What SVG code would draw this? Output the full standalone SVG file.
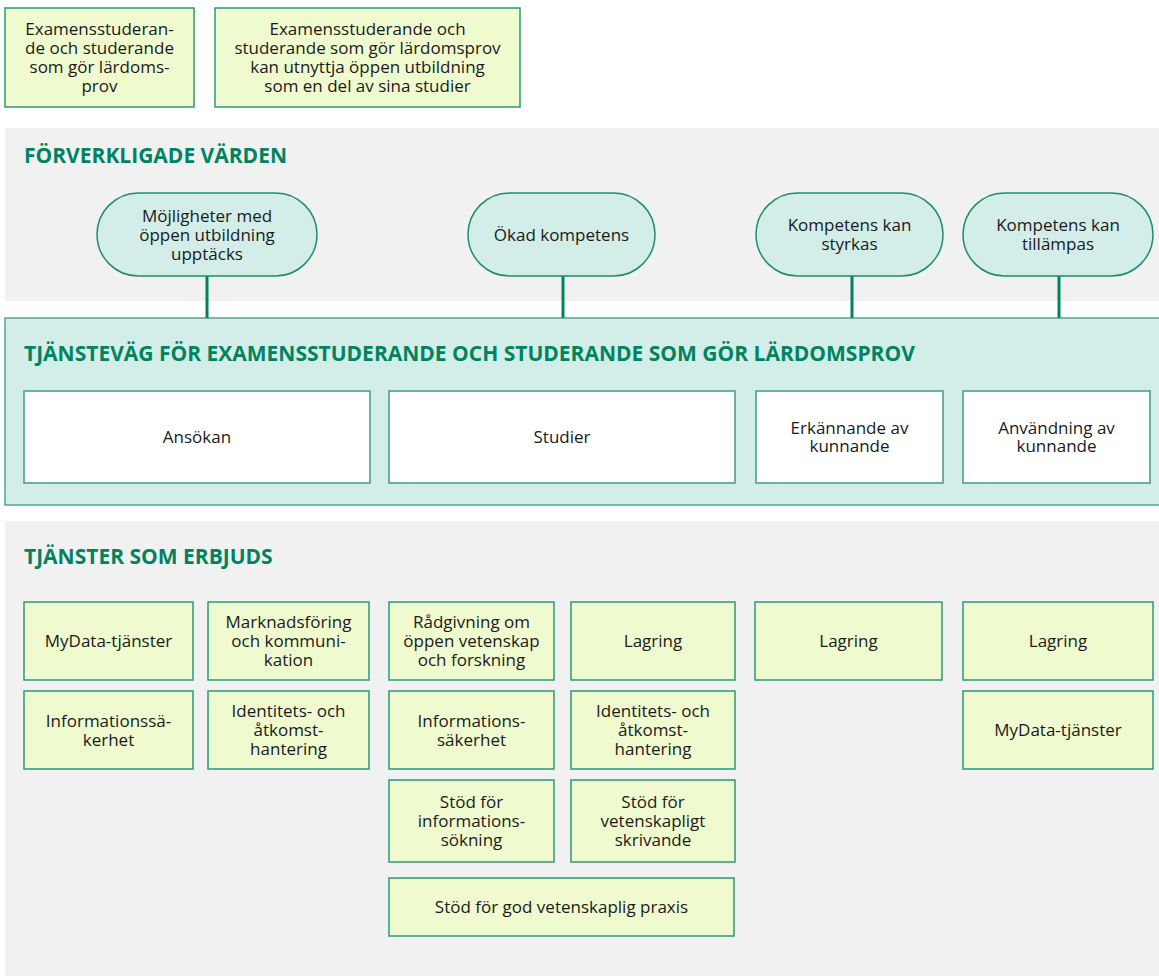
<svg xmlns="http://www.w3.org/2000/svg" width="1159" height="976" viewBox="0 0 1159 976">
<style>
text{font-family:"Open Sans","Noto Sans","Liberation Sans",sans-serif;font-size:17px;fill:#1a1a1a;text-anchor:middle}
.h{font-weight:bold;font-size:21px;fill:#00835e;text-anchor:start}
.lg{fill:#effacf;stroke:#2a9a78;stroke-width:1.5}
.pill{fill:#d3ede8;stroke:#1e8c6e;stroke-width:1.5}
.ph{fill:#ffffff;stroke:#3a9e85;stroke-width:1.5}
.conn{stroke:#00835e;stroke-width:3;fill:none}
</style>
<rect width="1159" height="976" fill="#ffffff"/>
<g id="top1"><rect class="lg" x="5" y="8" width="189" height="99"/>
<text x="99.5" y="35">Examensstuderan-</text><text x="99.5" y="54">de och studerande</text><text x="99.5" y="73">som gör lärdoms-</text><text x="99.5" y="92">prov</text></g>
<g id="top2"><rect class="lg" x="215" y="8" width="305" height="99"/>
<text x="367.5" y="35">Examensstuderande och</text><text x="367.5" y="54">studerande som gör lärdomsprov</text><text x="367.5" y="73">kan utnyttja öppen utbildning</text><text x="367.5" y="92">som en del av sina studier</text></g>
<g id="values-section"><rect x="5" y="128" width="1154" height="173" fill="#f1f1f1"/>
<text class="h" x="24" y="163">FÖRVERKLIGADE VÄRDEN</text></g>
<g id="path-section"><rect x="5" y="318" width="1160" height="187" fill="#d3ede8" stroke="#4fa88f" stroke-width="1.5"/>
<text class="h" x="24" y="361">TJÄNSTEVÄG FÖR EXAMENSSTUDERANDE OCH STUDERANDE SOM GÖR LÄRDOMSPROV</text></g>
<g id="connectors">
<line class="conn" x1="207" y1="276" x2="207" y2="318"/>
<line class="conn" x1="563" y1="276" x2="563" y2="318"/>
<line class="conn" x1="852" y1="276" x2="852" y2="318"/>
<line class="conn" x1="1059" y1="276" x2="1059" y2="318"/>
</g>
<g id="v1"><rect class="pill" x="97" y="193" width="220" height="83" rx="41.5"/>
<text x="207" y="221.5">Möjligheter med</text><text x="207" y="240.5">öppen utbildning</text><text x="207" y="259.5">upptäcks</text></g>
<g id="v2"><rect class="pill" x="468" y="193" width="187" height="83" rx="41.5"/>
<text x="561.5" y="241">Ökad kompetens</text></g>
<g id="v3"><rect class="pill" x="756" y="193" width="187" height="83" rx="41.5"/>
<text x="849.5" y="231">Kompetens kan</text><text x="849.5" y="250">styrkas</text></g>
<g id="v4"><rect class="pill" x="963" y="193" width="190" height="83" rx="41.5"/>
<text x="1058" y="231">Kompetens kan</text><text x="1058" y="250">tillämpas</text></g>
<g id="p1"><rect class="ph" x="24" y="391" width="346" height="92"/><text x="197" y="443">Ansökan</text></g>
<g id="p2"><rect class="ph" x="389" y="391" width="346" height="92"/><text x="562" y="443">Studier</text></g>
<g id="p3"><rect class="ph" x="756" y="391" width="187" height="92"/><text x="849.5" y="434">Erkännande av</text><text x="849.5" y="452">kunnande</text></g>
<g id="p4"><rect class="ph" x="963" y="391" width="187" height="92"/><text x="1056.5" y="434">Användning av</text><text x="1056.5" y="452">kunnande</text></g>
<g id="services-section"><rect x="5" y="521" width="1154" height="455" fill="#f1f1f1"/>
<text class="h" x="24" y="564">TJÄNSTER SOM ERBJUDS</text></g>
<g id="s1"><rect class="lg" x="24" y="602" width="169" height="78"/><text x="108.5" y="647">MyData-tjänster</text></g>
<g id="s2"><rect class="lg" x="208" y="602" width="161" height="78"/><text x="288.5" y="628">Marknadsföring</text><text x="288.5" y="647">och kommuni-</text><text x="288.5" y="666">kation</text></g>
<g id="s3"><rect class="lg" x="389" y="602" width="165" height="78"/><text x="471.5" y="628">Rådgivning om</text><text x="471.5" y="647">öppen vetenskap</text><text x="471.5" y="666">och forskning</text></g>
<g id="s4"><rect class="lg" x="571" y="602" width="164" height="78"/><text x="653" y="647">Lagring</text></g>
<g id="s5"><rect class="lg" x="755" y="602" width="187" height="78"/><text x="848.5" y="647">Lagring</text></g>
<g id="s6"><rect class="lg" x="963" y="602" width="190" height="78"/><text x="1058" y="647">Lagring</text></g>
<g id="s7"><rect class="lg" x="24" y="691" width="169" height="78"/><text x="108.5" y="727">Informationssä-</text><text x="108.5" y="746">kerhet</text></g>
<g id="s8"><rect class="lg" x="208" y="691" width="161" height="78"/><text x="288.5" y="717">Identitets- och</text><text x="288.5" y="736">åtkomst-</text><text x="288.5" y="755">hantering</text></g>
<g id="s9"><rect class="lg" x="389" y="691" width="165" height="78"/><text x="471.5" y="727">Informations-</text><text x="471.5" y="746">säkerhet</text></g>
<g id="s10"><rect class="lg" x="571" y="691" width="164" height="78"/><text x="653" y="717">Identitets- och</text><text x="653" y="736">åtkomst-</text><text x="653" y="755">hantering</text></g>
<g id="s11"><rect class="lg" x="963" y="691" width="190" height="78"/><text x="1058" y="736">MyData-tjänster</text></g>
<g id="s12"><rect class="lg" x="389" y="780" width="165" height="82"/><text x="471.5" y="808">Stöd för</text><text x="471.5" y="827">informations-</text><text x="471.5" y="846">sökning</text></g>
<g id="s13"><rect class="lg" x="571" y="780" width="164" height="82"/><text x="653" y="808">Stöd för</text><text x="653" y="827">vetenskapligt</text><text x="653" y="846">skrivande</text></g>
<g id="s14"><rect class="lg" x="389" y="878" width="345" height="58"/><text x="561.5" y="913">Stöd för god vetenskaplig praxis</text></g>
</svg>
